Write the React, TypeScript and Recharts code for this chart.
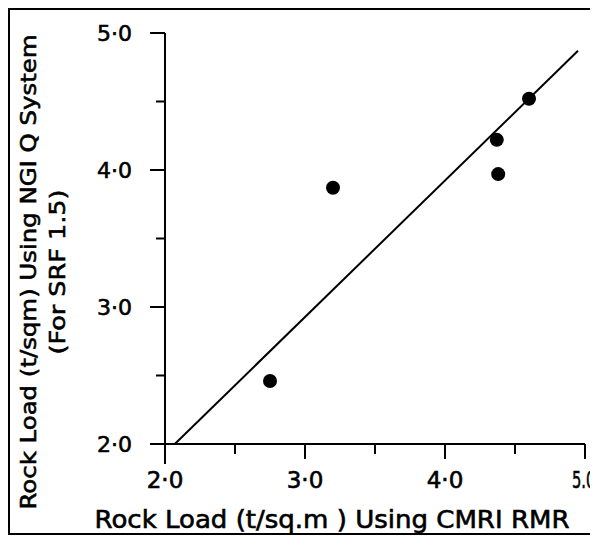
import React from 'react';
import { ScatterChart, Scatter, XAxis, YAxis, ReferenceLine } from 'recharts';

// Data
const cmriRmr = [2.75, 3.2, 4.37, 4.38, 4.6];
const ngiQ = [2.46, 3.87, 4.22, 3.97, 4.52];
const fitLine = [
  { x: 2.07, y: 2.0 },
  { x: 4.95, y: 4.87 },
];
const xTicks = [2, 2.5, 3, 3.5, 4, 4.5, 5];
const xTickLabels = ['2·0', '', '3·0', '', '4·0', '', '5.0'];
const yTicks = [2, 2.5, 3, 3.5, 4, 4.5, 5];
const yTickLabels = ['2·0', '', '3·0', '', '4·0', '', '5·0'];
const xTitle = 'Rock Load (t/sq.m ) Using CMRI RMR';
const yTitle1 = 'Rock Load (t/sqm) Using NGI Q System';
const yTitle2 = '(For SRF 1.5)';

const points = cmriRmr.map((x, i) => ({ x, y: ngiQ[i] }));

const W = 590;
const H = 527;
const FONT = 'DejaVu Sans, sans-serif';
const TXT = { fontFamily: FONT, fill: '#000', stroke: '#000', strokeWidth: 0.6 };

const XTick = (props: any) => {
  const { x, y, payload } = props;
  const v = payload.value as number;
  const major = Number.isInteger(v);
  const len = v === 2 ? 20 : major ? 15 : 10;
  const label = xTickLabels[xTicks.indexOf(v)] ?? '';
  const last = v === 5;
  return (
    <g>
      <line x1={x} y1={y} x2={x} y2={y + len} stroke="#000" strokeWidth={2} />
      {label && !last && (
        <text x={x} y={y + 44} textAnchor="middle" fontSize={23} {...TXT}>
          {label}
        </text>
      )}
      {label && last && (
        <text transform={`translate(${x - 13},${y + 44}) scale(0.64,1)`} x={0} y={0} textAnchor="start" fontSize={23} {...TXT}>
          {label}
        </text>
      )}
    </g>
  );
};

const YTick = (props: any) => {
  const { x, y, payload } = props;
  const v = payload.value as number;
  const major = Number.isInteger(v);
  const len = major ? 15 : 9;
  const label = yTickLabels[yTicks.indexOf(v)] ?? '';
  return (
    <g>
      <line x1={x} y1={y} x2={x - len} y2={y} stroke="#000" strokeWidth={2} />
      {label && (
        <text x={x - 33} y={y} textAnchor="end" dominantBaseline="central" fontSize={22} {...TXT}>
          {label}
        </text>
      )}
    </g>
  );
};

const Dot = (props: any) => {
  const { cx, cy } = props;
  return <circle cx={cx} cy={cy} r={7} fill="#000" />;
};

export default function App() {
  return (
    <div style={{ position: 'relative', width: W, height: H, background: '#fff' }}>
      <ScatterChart width={W} height={H} margin={{ top: 25, right: 13, bottom: 51, left: 97 }}>
        <XAxis
          type="number"
          dataKey="x"
          domain={[2, 5]}
          ticks={xTicks}
          interval={0}
          height={40}
          tickSize={0}
          tickMargin={0}
          tickLine={false}
          axisLine={{ stroke: '#000', strokeWidth: 2 }}
          tick={<XTick />}
          allowDataOverflow
        />
        <YAxis
          type="number"
          dataKey="y"
          domain={[2, 5]}
          ticks={yTicks}
          interval={0}
          width={60}
          tickSize={0}
          tickMargin={0}
          tickLine={false}
          axisLine={{ stroke: '#000', strokeWidth: 2 }}
          tick={<YTick />}
          allowDataOverflow
        />
        <ReferenceLine segment={fitLine} stroke="#000" strokeWidth={2} ifOverflow="visible" />
        <Scatter data={points} shape={<Dot />} isAnimationActive={false} />
      </ScatterChart>
      <svg width={W} height={H} style={{ position: 'absolute', left: 0, top: 0, pointerEvents: 'none' }}>
        <text x={324} y={520} textAnchor="middle" fontSize={24} {...TXT} textLength={475} lengthAdjust="spacingAndGlyphs">
          {xTitle}
        </text>
        <g transform="translate(20,264) rotate(-90)">
          <text x={0} y={0} textAnchor="middle" dominantBaseline="central" fontSize={22} {...TXT} textLength={475} lengthAdjust="spacingAndGlyphs">
            {yTitle1}
          </text>
        </g>
        <g transform="translate(49,264) rotate(-90)">
          <text x={0} y={0} textAnchor="middle" dominantBaseline="central" fontSize={22} {...TXT} textLength={165} lengthAdjust="spacingAndGlyphs">
            {yTitle2}
          </text>
        </g>
      </svg>
      <div style={{ position: 'absolute', left: 0, top: 0, width: W, height: H, boxSizing: 'border-box', border: '2px solid #000', pointerEvents: 'none' }} />
    </div>
  );
}
